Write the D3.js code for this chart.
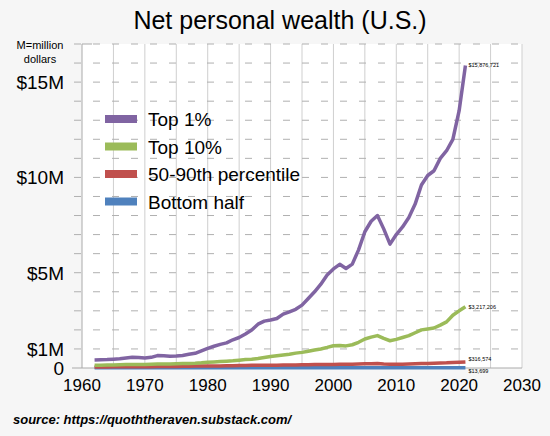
<!DOCTYPE html>
<html><head><meta charset="utf-8">
<script src="https://cdn.jsdelivr.net/npm/d3@7"></script>
<style>body{margin:0;background:#f6f6f6;}svg{display:block;font-family:"Liberation Sans",Arial,sans-serif;}</style>
</head><body><svg id="c" width="550" height="436"></svg>
<script>
const years = d3.range(1962, 2022);
const top1 = [0.42,0.43,0.44,0.46,0.48,0.52,0.56,0.55,0.53,0.56,0.65,0.64,0.62,0.63,0.66,0.72,0.77,0.9,1.03,1.14,1.24,1.32,1.48,1.6,1.78,1.99,2.3,2.46,2.52,2.6,2.83,2.95,3.08,3.3,3.65,4.0,4.4,4.88,5.2,5.44,5.22,5.45,6.2,7.15,7.7,8.0,7.3,6.5,7.0,7.4,7.9,8.6,9.6,10.1,10.35,11.0,11.4,12.0,13.5,15.876721];
const top10 = [0.15,0.15,0.16,0.16,0.17,0.18,0.19,0.19,0.19,0.2,0.21,0.21,0.21,0.22,0.23,0.24,0.25,0.27,0.3,0.32,0.34,0.36,0.38,0.41,0.44,0.46,0.5,0.55,0.6,0.64,0.68,0.72,0.78,0.82,0.88,0.94,1.0,1.08,1.17,1.18,1.16,1.22,1.35,1.52,1.62,1.7,1.55,1.43,1.5,1.6,1.7,1.85,2.0,2.05,2.1,2.25,2.42,2.77,3.0,3.217206];
const mid = [0.05,0.05,0.05,0.06,0.06,0.06,0.07,0.07,0.07,0.07,0.08,0.08,0.08,0.08,0.09,0.09,0.1,0.1,0.11,0.11,0.11,0.12,0.12,0.13,0.13,0.14,0.14,0.15,0.15,0.15,0.16,0.16,0.16,0.17,0.17,0.18,0.18,0.19,0.19,0.2,0.2,0.2,0.21,0.22,0.22,0.23,0.21,0.2,0.2,0.2,0.21,0.22,0.23,0.24,0.25,0.26,0.27,0.29,0.3,0.316574];
const bottom = years.map((y,i)=> i<years.length-1 ? 0.012 : 0.013699);
const seriesNames = ["Top 1%","Top 10%","50-90th percentile","Bottom half"];
const colors = ["#8064a2","#9bbb59","#c0504d","#4f81bd"];
const endLabels = ["$15,876,721","$3,217,206","$316,574","$13,699"];
const yTickVals = [0,1,5,10,15];
const yTickLabels = ["0","$1M","$5M","$10M","$15M"];
const xTicks = [1960,1970,1980,1990,2000,2010,2020,2030];

const svg = d3.select("#c");
const x = d3.scaleLinear().domain([1960,2030]).range([82,522]);
const y = d3.scaleLinear().domain([0,17]).range([368,44]);

svg.append("rect").attr("x",82).attr("y",44).attr("width",440).attr("height",324).attr("fill","#fff");
// vertical grid every 5 years
svg.append("g").selectAll("line").data(d3.range(1965,2031,5)).join("line")
 .attr("x1",d=>x(d)).attr("x2",d=>x(d)).attr("y1",44).attr("y2",368)
 .attr("stroke","#cfcfcf").attr("stroke-width",1);
// horizontal dashed grid every 1M
svg.append("g").selectAll("line").data(d3.range(1,18)).join("line")
 .attr("x1",72).attr("x2",522).attr("y1",d=>y(d)).attr("y2",d=>y(d))
 .attr("stroke","#b0b0b0").attr("stroke-dasharray","7,12").attr("stroke-dashoffset",-2);
// axes
svg.append("line").attr("x1",82).attr("x2",82).attr("y1",44).attr("y2",368).attr("stroke","#aaa");
svg.append("line").attr("x1",72).attr("x2",522).attr("y1",368).attr("y2",368).attr("stroke","#aaa");
svg.append("line").attr("x1",82).attr("x2",92).attr("y1",44).attr("y2",44).attr("stroke","#aaa");

svg.append("g").selectAll("text").data(yTickVals).join("text")
 .attr("x",64).attr("y",d=>y(d)+7).attr("text-anchor","end").attr("font-size",19)
 .text((d,i)=>yTickLabels[i]);
svg.append("text").attr("x",40).attr("y",49).attr("text-anchor","middle").attr("font-size",11).text("M=million");
svg.append("text").attr("x",40).attr("y",63).attr("text-anchor","middle").attr("font-size",11).text("dollars");
svg.append("g").selectAll("text").data(xTicks).join("text")
 .attr("x",d=>x(d)).attr("y",391).attr("text-anchor","middle").attr("font-size",17).text(d=>d);

const allData=[top1,top10,mid,bottom];
const line = d3.line().x((d,i)=>x(years[i])).y(d=>y(d));
allData.slice().reverse().forEach((s,k)=>{
  const i=3-k;
  svg.append("path").attr("d",line(s)).attr("fill","none").attr("stroke",colors[i]).attr("stroke-width",3.5).attr("stroke-linejoin","round");
});
const lastY = [0,0,-3,3];
allData.forEach((s,i)=>{
  svg.append("text").attr("x",x(2021)+3).attr("y",y(s[s.length-1])+2+lastY[i]).attr("font-size",5.5).text(endLabels[i]);
});
// legend
seriesNames.forEach((n,i)=>{
  const ly=119+i*27.5;
  svg.append("rect").attr("x",105).attr("y",ly-4).attr("width",32).attr("height",8).attr("fill",colors[i]);
  svg.append("text").attr("x",148).attr("y",ly+7).attr("font-size",19).text(n);
});
svg.append("text").attr("x",280).attr("y",29).attr("text-anchor","middle").attr("font-size",25).text("Net personal wealth (U.S.)");
svg.append("text").attr("x",13).attr("y",424).attr("font-size",13).attr("font-weight","bold").attr("font-style","italic").text("source: https://quoththeraven.substack.com/");
</script></body></html>
